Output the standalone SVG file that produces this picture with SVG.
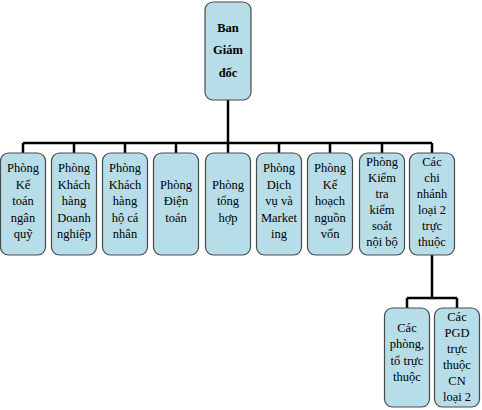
<svg xmlns="http://www.w3.org/2000/svg" width="482" height="410" viewBox="0 0 482 410" font-family="'Liberation Serif', 'Times New Roman', Times, serif">
<style>
.box{fill:#b7dde8;stroke:#4a4a4a;stroke-width:1.2}
.t{font-family:'Liberation Serif','Times New Roman',Times,serif;font-size:12.5px;fill:#000;text-anchor:middle}
.b{font-weight:bold}
.c{fill:none;stroke:#000;stroke-width:2.5}
</style>
<rect width="482" height="410" fill="#fff"/>
<g id="connectors">
<path class="c" d="M228,100V143M23,143H432M23,143V153M74,143V153M125,143V153M176,143V153M228,143V153M279,143V153M330,143V153M382,143V153M432,143V153M432,255V298M407,298H457M407,298V308M457,298V308"/>
</g>
<g id="ban-giam-doc">
<rect class="box" x="205" y="2" width="46" height="98" rx="8"/>
<text class="t b" x="228" y="31.5">Ban</text>
<text class="t b" x="228" y="54">Giám</text>
<text class="t b" x="228" y="76.5">đốc</text>
</g>
<g id="ke-toan">
<rect class="box" x="0.5" y="153" width="45" height="102" rx="8"/>
<text class="t" x="23" y="172">Phòng</text>
<text class="t" x="23" y="188.5">Kế</text>
<text class="t" x="23" y="205">toán</text>
<text class="t" x="23" y="221.5">ngân</text>
<text class="t" x="23" y="238">quỹ</text>
</g>
<g id="kh-doanh-nghiep">
<rect class="box" x="51.5" y="153" width="45" height="102" rx="8"/>
<text class="t" x="74" y="172">Phòng</text>
<text class="t" x="74" y="188.5">Khách</text>
<text class="t" x="74" y="205">hàng</text>
<text class="t" x="74" y="221.5">Doanh</text>
<text class="t" x="74" y="238">nghiệp</text>
</g>
<g id="kh-ca-nhan">
<rect class="box" x="102.5" y="153" width="45" height="102" rx="8"/>
<text class="t" x="125" y="172">Phòng</text>
<text class="t" x="125" y="188.5">Khách</text>
<text class="t" x="125" y="205">hàng</text>
<text class="t" x="125" y="221.5">hộ cá</text>
<text class="t" x="125" y="238">nhân</text>
</g>
<g id="dien-toan">
<rect class="box" x="153.5" y="153" width="45" height="102" rx="8"/>
<text class="t" x="176" y="188.5">Phòng</text>
<text class="t" x="176" y="205">Điện</text>
<text class="t" x="176" y="221.5">toán</text>
</g>
<g id="tong-hop">
<rect class="box" x="205.5" y="153" width="45" height="102" rx="8"/>
<text class="t" x="228" y="188.5">Phòng</text>
<text class="t" x="228" y="205">tổng</text>
<text class="t" x="228" y="221.5">hợp</text>
</g>
<g id="dich-vu-marketing">
<rect class="box" x="256.5" y="153" width="45" height="102" rx="8"/>
<text class="t" x="279" y="172">Phòng</text>
<text class="t" x="279" y="188.5">Dịch</text>
<text class="t" x="279" y="205">vụ và</text>
<text class="t" x="279" y="221.5">Market</text>
<text class="t" x="279" y="238">ing</text>
</g>
<g id="ke-hoach-nguon-von">
<rect class="box" x="307.5" y="153" width="45" height="102" rx="8"/>
<text class="t" x="330" y="172">Phòng</text>
<text class="t" x="330" y="188.5">Kế</text>
<text class="t" x="330" y="205">hoạch</text>
<text class="t" x="330" y="221.5">nguồn</text>
<text class="t" x="330" y="238">vốn</text>
</g>
<g id="kiem-tra">
<rect class="box" x="359.5" y="153" width="45" height="102" rx="8"/>
<text class="t" x="382" y="166">Phòng</text>
<text class="t" x="382" y="182">Kiểm</text>
<text class="t" x="382" y="198">tra</text>
<text class="t" x="382" y="214">kiểm</text>
<text class="t" x="382" y="230">soát</text>
<text class="t" x="382" y="246">nội bộ</text>
</g>
<g id="chi-nhanh">
<rect class="box" x="409.5" y="153" width="45" height="102" rx="8"/>
<text class="t" x="432" y="166">Các</text>
<text class="t" x="432" y="182">chi</text>
<text class="t" x="432" y="198">nhánh</text>
<text class="t" x="432" y="214">loại 2</text>
<text class="t" x="432" y="230">trực</text>
<text class="t" x="432" y="246">thuộc</text>
</g>
<g id="phong-to">
<rect class="box" x="384.5" y="308" width="45" height="99" rx="8"/>
<text class="t" x="407" y="332">Các</text>
<text class="t" x="407" y="348.3">phòng,</text>
<text class="t" x="407" y="364.6">tổ trực</text>
<text class="t" x="407" y="381">thuộc</text>
</g>
<g id="pgd">
<rect class="box" x="434.5" y="308" width="45" height="99" rx="8"/>
<text class="t" x="457" y="321">Các</text>
<text class="t" x="457" y="337">PGD</text>
<text class="t" x="457" y="353">trực</text>
<text class="t" x="457" y="369">thuộc</text>
<text class="t" x="457" y="385">CN</text>
<text class="t" x="457" y="401">loại 2</text>
</g>
</svg>
